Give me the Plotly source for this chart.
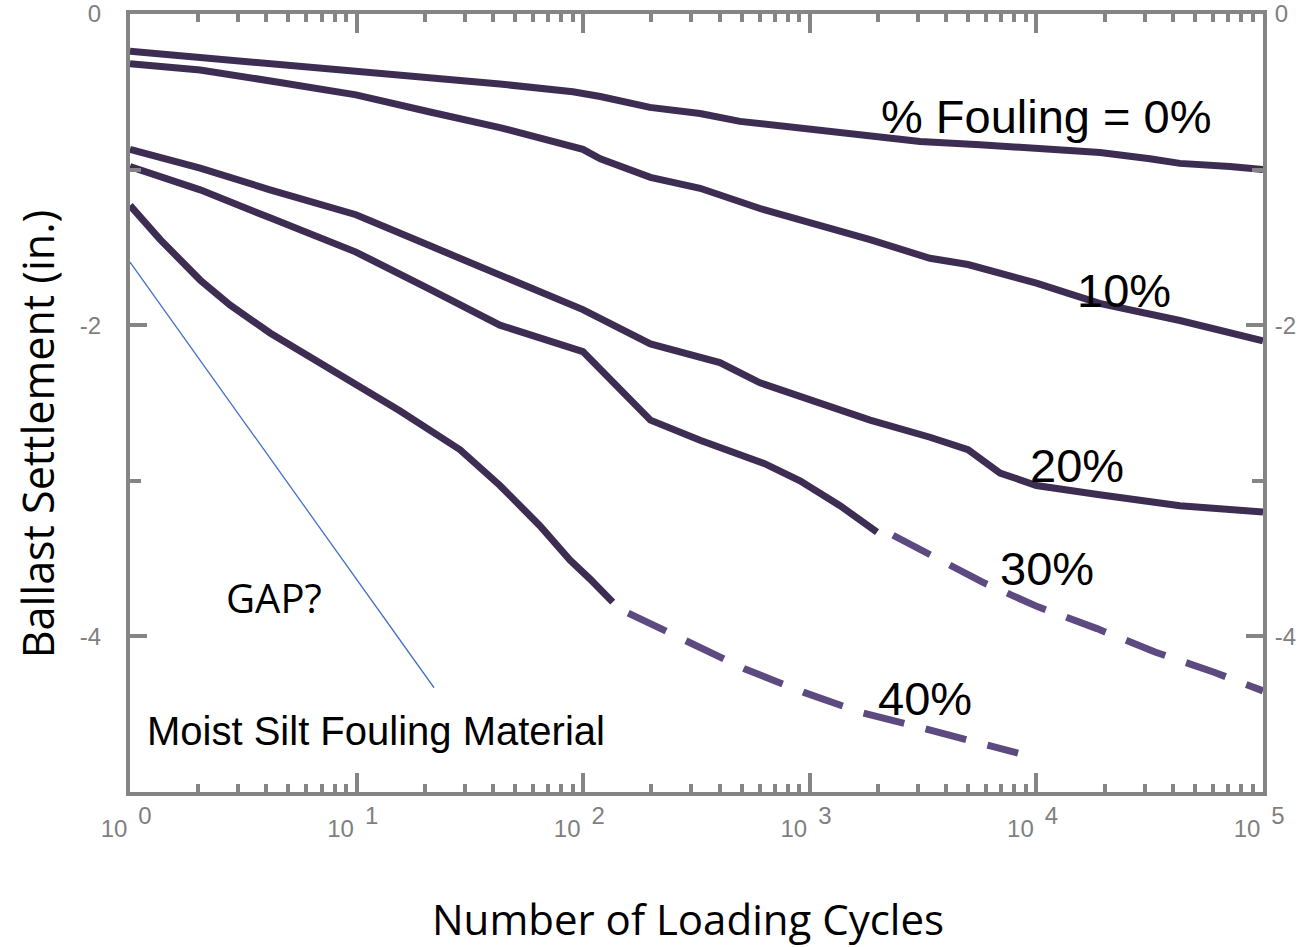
import plotly.graph_objects as go

# ---------------- data ----------------
cyc_0 = [1, 2.04, 4.59, 10, 21.1, 42.9, 90, 119, 197, 328, 492, 905, 1667, 3066, 5636, 10070, 19090, 31700, 43000, 71500, 100000]
set_0 = [-0.24, -0.28, -0.32, -0.36, -0.40, -0.45, -0.50, -0.53, -0.60, -0.64, -0.69, -0.73, -0.78, -0.82, -0.84, -0.86, -0.89, -0.93, -0.96, -0.98, -1.00]

cyc_10 = [1, 2.04, 4.59, 9.94, 21.1, 42.9, 99.7, 119, 198, 328, 603, 1002, 1845, 3391, 4990, 10000, 19000, 43000, 100000]
set_10 = [-0.32, -0.36, -0.44, -0.52, -0.63, -0.73, -0.87, -0.93, -1.05, -1.12, -1.25, -1.34, -1.45, -1.57, -1.61, -1.73, -1.86, -1.97, -2.10]

cyc_20 = [1, 2.04, 4.15, 9.94, 21.1, 42.9, 99.7, 198, 401, 603, 1002, 1845, 3391, 4990, 6910, 10000, 19000, 43000, 100000]
set_20 = [-0.87, -0.99, -1.13, -1.29, -1.49, -1.68, -1.90, -2.12, -2.24, -2.37, -2.48, -2.61, -2.72, -2.80, -2.95, -3.03, -3.09, -3.16, -3.20]

cyc_30 = [1, 2.04, 4.15, 9.94, 21.1, 42.9, 99.7, 198, 328, 492, 632, 905, 1360, 1980]
set_30 = [-0.98, -1.13, -1.31, -1.53, -1.77, -2.00, -2.17, -2.61, -2.74, -2.84, -2.89, -3.00, -3.16, -3.33]
cyc_30_ext = [2330, 5754, 10160, 18500, 33370, 60800, 100000]
set_30_ext = [-3.35, -3.65, -3.81, -3.95, -4.10, -4.23, -4.35]

cyc_40 = [1, 1.36, 2.04, 2.76, 4.15, 6.89, 9.94, 15.5, 28.6, 42.9, 64.5, 87.4, 107, 135]
set_40 = [-1.23, -1.45, -1.71, -1.87, -2.05, -2.24, -2.39, -2.55, -2.80, -3.03, -3.29, -3.51, -3.63, -3.78]
cyc_40_ext = [158, 293, 518, 942, 1700, 3160, 5870, 8300]
set_40_ext = [-3.85, -4.04, -4.21, -4.36, -4.49, -4.59, -4.70, -4.75]

cyc_gap = [1, 21.97]
set_gap = [-1.595, -4.33]

x_major = [1, 10, 100, 1000, 10000, 100000]
x_base_text = ["10"] * 6
x_exp_text = ["0", "1", "2", "3", "4", "5"]
x_minor = [m * d for d in [1, 10, 100, 1000, 10000] for m in range(2, 10)]
y_major = [0, -2, -4]
y_major_text = ["0", "-2", "-4"]
y_minor = [-1, -3]

labels = ["% Fouling = 0%", "10%", "20%", "30%", "40%"]

# ---------------- styles ----------------
SOLID = "#3E2D53"
DASHC = "#5C4A80"
AXC = "#858585"
LW = 7

fig = go.Figure()
for xs, ys in [(cyc_0, set_0), (cyc_10, set_10), (cyc_20, set_20), (cyc_30, set_30), (cyc_40, set_40)]:
    fig.add_trace(go.Scatter(x=xs, y=ys, mode="lines", line=dict(color=SOLID, width=LW),
                             showlegend=False, hoverinfo="skip"))
for xs, ys in [(cyc_30_ext, set_30_ext), (cyc_40_ext, set_40_ext)]:
    fig.add_trace(go.Scatter(x=xs, y=ys, mode="lines",
                             line=dict(color=DASHC, width=LW, dash="42px,22px"),
                             showlegend=False, hoverinfo="skip"))
fig.add_trace(go.Scatter(x=cyc_gap, y=set_gap, mode="lines", xaxis="x2", yaxis="y2",
                         line=dict(color="#4472C4", width=1.3),
                         showlegend=False, hoverinfo="skip"))

tickfont = dict(family="Liberation Sans, Arial", size=24, color="#7f7f7f")

fig.update_layout(
    width=1304, height=947,
    margin=dict(l=130, r=41, t=14, b=155, autoexpand=False),
    paper_bgcolor="white", plot_bgcolor="white",
    xaxis=dict(type="log", range=[0, 5], showgrid=False, zeroline=False, automargin=False,
               showline=True, linecolor=AXC, linewidth=4, mirror="allticks",
               ticks="inside", ticklen=19, tickwidth=4, tickcolor=AXC,
               tickvals=x_major, ticktext=x_base_text, tickfont=tickfont,
               ticklabelstandoff=12, ticklabelshift=-16,
               minor=dict(ticks="inside", tickvals=x_minor, ticklen=8, tickwidth=4,
                          tickcolor=AXC, showgrid=False)),
    xaxis2=dict(type="log", range=[0, 5], overlaying="x", anchor="y", side="bottom",
                showgrid=False, zeroline=False, automargin=False, showline=False,
                ticks="", tickvals=x_major, ticktext=x_exp_text, tickfont=tickfont,
                ticklabelstandoff=7, ticklabelshift=15),
    yaxis=dict(range=[-5, 0], showgrid=False, zeroline=False, automargin=False,
               showline=True, linecolor=AXC, linewidth=4, mirror=True,
               ticks="inside", ticklen=17, tickwidth=4, tickcolor=AXC,
               tickvals=y_major, ticktext=y_major_text, tickfont=tickfont,
               ticklabelstandoff=20,
               minor=dict(ticks="inside", tickvals=y_minor, ticklen=11, tickwidth=4,
                          tickcolor=AXC, showgrid=False)),
    yaxis2=dict(range=[-5, 0], overlaying="y", anchor="x", side="right", showgrid=False,
                zeroline=False, automargin=False,
                showline=True, linecolor=AXC, linewidth=4,
                ticks="inside", ticklen=17, tickwidth=4, tickcolor=AXC,
                tickvals=y_major, ticktext=y_major_text, tickfont=tickfont,
                ticklabelstandoff=3,
                minor=dict(ticks="inside", tickvals=y_minor, ticklen=11, tickwidth=4,
                           tickcolor=AXC, showgrid=False)),
)

lab_font = dict(family="Liberation Sans, Arial", size=47, color="black")
lab_pos = [(0.8085, 0.8685), (0.8773, 0.645), (0.8358, 0.4196), (0.8094, 0.287), (0.7017, 0.120)]
for txt, (px, py) in zip(labels, lab_pos):
    fig.add_annotation(text=txt, x=px, y=py, xref="paper", yref="paper",
                       xanchor="center", yanchor="middle", showarrow=False, font=lab_font)

fig.add_annotation(text="GAP?", x=0.1271, y=0.2494, xref="paper", yref="paper",
                   xanchor="center", yanchor="middle", showarrow=False,
                   font=dict(family="Open Sans", size=40, color="black"))
fig.add_annotation(text="Moist Silt Fouling Material", x=0.2171, y=0.0784, xref="paper", yref="paper",
                   xanchor="center", yanchor="middle", showarrow=False,
                   font=dict(family="Liberation Sans, Arial", size=40, color="black"))

fig.add_annotation(text="Number of Loading Cycles", x=0.4925, y=-0.1625, xref="paper", yref="paper",
                   xanchor="center", yanchor="middle", showarrow=False,
                   font=dict(family="Open Sans", size=42, color="black"))
fig.add_annotation(text="Ballast Settlement (in.)", x=-0.082, y=0.460, xref="paper", yref="paper",
                   xanchor="center", yanchor="middle", showarrow=False, textangle=-90,
                   font=dict(family="Open Sans", size=43, color="black"))

# remove the browser's default 8px body margin so the figure fills the window
fig.write_html("out.html", config={"displayModeBar": False},
               post_script="document.body.style.margin='0';")
